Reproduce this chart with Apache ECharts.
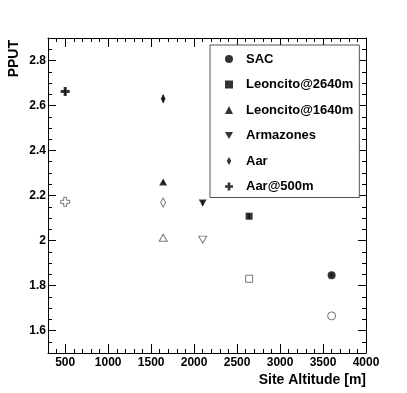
<!DOCTYPE html>
<html>
<head>
<meta charset="utf-8">
<script src="https://cdn.jsdelivr.net/npm/echarts@6/dist/echarts.min.js"></script>
<style>
  html, body { margin: 0; padding: 0; background: #fff; }
  #chart { width: 407px; height: 393px; }
</style>
</head>
<body>
<div id="chart"></div>
<script>
// sites in legend order
const sites = ['SAC', 'Leoncito@2640m', 'Leoncito@1640m', 'Armazones', 'Aar', 'Aar@500m']
const altitudes = [3600, 2640, 1640, 2100, 1640, 500]
// filled markers (upper values) and their errors
const filledValues = [1.846, 2.108, 2.26, 2.167, 2.630, 2.662]
const filledErrors = [0.008, 0.012, 0.008, 0.012, 0.018, 0.012]
// open markers (lower values)
const openValues = [1.665, 1.830, 2.012, 2.004, 2.169, 2.172]
const xMajorTicks = [500, 1000, 1500, 2000, 2500, 3000, 3500, 4000]
const yMajorTicks = [1.6, 1.8, 2.0, 2.2, 2.4, 2.6, 2.8]

const font = 'Liberation Sans'
const crossPath = 'path://M3,0H6V3H9V6H6V9H3V6H0V3H3Z'
const markers = [
  { symbol: 'circle', size: 8, rotate: 0, icon: 'circle' },
  { symbol: 'rect', size: 7, rotate: 0, icon: 'rect' },
  { symbol: 'triangle', size: [8, 7], rotate: 0, icon: 'triangle' },
  { symbol: 'triangle', size: [8, 7], rotate: 180, icon: 'path://M0,0L8,0L4,7Z' },
  { symbol: 'diamond', size: [5, 9], rotate: 0, icon: 'path://M2.5,0L5,4.5L2.5,9L0,4.5Z' },
  { symbol: crossPath, size: 9, rotate: 0, icon: crossPath }
]

const chart = echarts.init(document.getElementById('chart'))

let series = []
sites.forEach((name, i) => {
  series.push({
    name: name,
    type: 'scatter',
    symbol: markers[i].symbol,
    symbolSize: markers[i].size,
    symbolRotate: markers[i].rotate,
    itemStyle: { color: '#000' },
    z: 5,
    data: [[altitudes[i], filledValues[i]]]
  })
  series.push({
    name: name + ' (open)',
    type: 'scatter',
    symbol: markers[i].symbol,
    symbolSize: markers[i].size,
    symbolRotate: markers[i].rotate,
    itemStyle: { color: '#fff', borderColor: '#555', borderWidth: 1 },
    z: 5,
    data: [[altitudes[i], openValues[i]]]
  })
})
// error bars on the filled points
series.push({
  type: 'custom',
  z: 4,
  renderItem: function (params, api) {
    let p1 = api.coord([api.value(0), api.value(1)])
    let p2 = api.coord([api.value(0), api.value(2)])
    return {
      type: 'line',
      shape: { x1: p1[0], y1: p1[1], x2: p2[0], y2: p2[1] },
      style: { stroke: '#000', lineWidth: 1 }
    }
  },
  data: altitudes.map((a, i) => [a, filledValues[i] - filledErrors[i], filledValues[i] + filledErrors[i]])
})

const tickLabel = { color: '#000', fontFamily: font, fontWeight: 'bold', fontSize: 12 }
const frameLine = { show: true, lineStyle: { color: '#000', width: 1 } }

let option = {
  animation: false,
  backgroundColor: '#fff',
  grid: { left: 48, top: 38, width: 318, height: 315 },
  legend: {
    orient: 'vertical',
    left: 210,
    top: 45,
    data: sites.map((s, i) => ({ name: s, icon: markers[i].icon })),
    itemWidth: 8,
    itemHeight: 8,
    itemGap: 11.5,
    backgroundColor: '#fff',
    borderColor: '#555',
    borderWidth: 1,
    borderRadius: 0,
    padding: [7, 6, 4, 15],
    itemStyle: { color: '#000' },
    textStyle: { color: '#000', fontFamily: font, fontWeight: 'bold', fontSize: 13, lineHeight: 14, padding: [0, 0, 0, 8] },
    selectedMode: false,
    z: 10
  },
  xAxis: [
    {
      type: 'value', position: 'bottom', min: 300, max: 4000, interval: 100,
      axisLine: frameLine,
      axisTick: { inside: true, length: 4, lineStyle: { color: '#000' } },
      axisLabel: Object.assign({ margin: 4, formatter: v => (v % 500 === 0 ? String(v) : '') }, tickLabel),
      splitLine: { show: false },
      name: 'Site Altitude [m]',
      nameLocation: 'end',
      nameGap: 0,
      nameTextStyle: { color: '#000', fontFamily: font, fontWeight: 'bold', fontSize: 14, align: 'right', verticalAlign: 'top', padding: [20, 0, 0, 0] }
    },
    {
      type: 'value', position: 'bottom', min: 300, max: 4000,
      axisLine: { show: false },
      axisTick: { inside: true, length: 9, customValues: xMajorTicks, lineStyle: { color: '#000' } },
      axisLabel: { show: false },
      splitLine: { show: false }
    },
    {
      type: 'value', position: 'top', min: 300, max: 4000, interval: 100,
      axisLine: frameLine,
      axisTick: { inside: true, length: 4, lineStyle: { color: '#000' } },
      axisLabel: { show: false },
      splitLine: { show: false }
    },
    {
      type: 'value', position: 'top', min: 300, max: 4000,
      axisLine: { show: false },
      axisTick: { inside: true, length: 9, customValues: xMajorTicks, lineStyle: { color: '#000' } },
      axisLabel: { show: false },
      splitLine: { show: false }
    }
  ],
  yAxis: [
    {
      type: 'value', position: 'left', min: 1.5, max: 2.9, interval: 0.05,
      axisLine: frameLine,
      axisTick: { inside: true, length: 4, lineStyle: { color: '#000' } },
      axisLabel: Object.assign({
        margin: 2,
        formatter: v => {
          let k = Math.round(v * 100)
          return (k % 20 === 0 && k >= 160) ? String(k / 100) : ''
        }
      }, tickLabel),
      splitLine: { show: false },
      name: 'PPUT',
      nameLocation: 'end',
      nameGap: -2,
      nameRotate: 90,
      nameTextStyle: { color: '#000', fontFamily: font, fontWeight: 'bold', fontSize: 14, align: 'right', verticalAlign: 'bottom', padding: [0, 0, 27, 0] }
    },
    {
      type: 'value', position: 'left', min: 1.5, max: 2.9,
      axisLine: { show: false },
      axisTick: { inside: true, length: 8, customValues: yMajorTicks, lineStyle: { color: '#000' } },
      axisLabel: { show: false },
      splitLine: { show: false }
    },
    {
      type: 'value', position: 'right', min: 1.5, max: 2.9, interval: 0.05,
      axisLine: frameLine,
      axisTick: { inside: true, length: 4, lineStyle: { color: '#000' } },
      axisLabel: { show: false },
      splitLine: { show: false }
    },
    {
      type: 'value', position: 'right', min: 1.5, max: 2.9,
      axisLine: { show: false },
      axisTick: { inside: true, length: 8, customValues: yMajorTicks, lineStyle: { color: '#000' } },
      axisLabel: { show: false },
      splitLine: { show: false }
    }
  ],
  series: series
}
chart.setOption(option)
</script>
</body>
</html>
